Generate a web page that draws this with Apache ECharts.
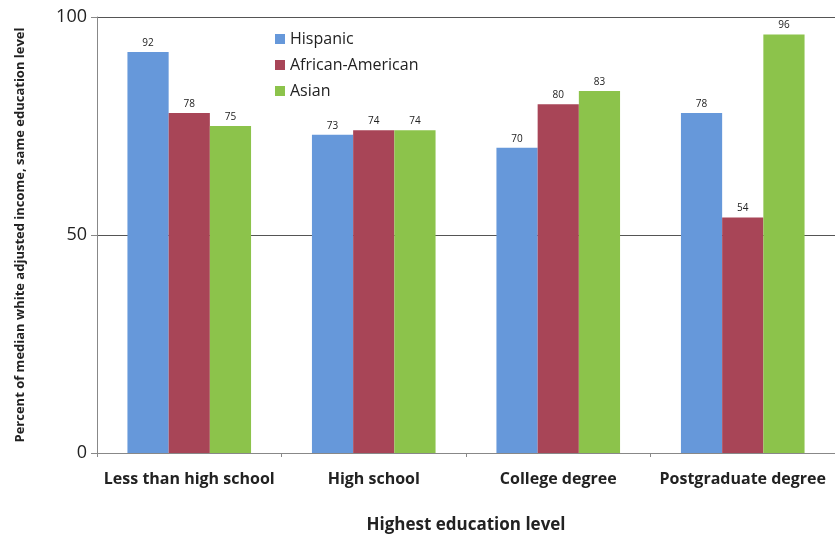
<!DOCTYPE html>
<html>
<head>
<meta charset="utf-8">
<script src="https://cdn.jsdelivr.net/npm/echarts@6/dist/echarts.min.js"></script>
<style>
html,body{margin:0;padding:0;background:#fff;}
#chart{width:835px;height:543px;}
</style>
</head>
<body>
<div id="chart"></div>
<script>
// data
var categories = ['Less than high school', 'High school', 'College degree', 'Postgraduate degree'];
var hispanic = [92, 73, 70, 78];
var africanAmerican = [78, 74, 80, 54];
var asian = [75, 74, 83, 96];
var yTicks = [0, 50, 100];

var font = '"Open Sans", Lato, sans-serif';
var myChart = echarts.init(document.getElementById('chart'));

function barSeries(name, data, color) {
    return {
        name: name,
        type: 'bar',
        data: data,
        barGap: '0%',
        barCategoryGap: '33%',
        itemStyle: { color: color },
        label: {
            show: true,
            position: 'top',
            distance: 4,
            color: '#222',
            fontSize: 10,
            fontFamily: font
        }
    };
}

myChart.setOption({
    animation: false,
    grid: { left: 97, right: -2, top: 17, bottom: 90 },
    legend: {
        orient: 'vertical',
        left: 270,
        top: 26,
        icon: 'rect',
        itemWidth: 10,
        itemHeight: 10,
        itemGap: 10,
        textStyle: { fontSize: 16, color: '#222', fontFamily: font },
        data: ['Hispanic', 'African-American', 'Asian']
    },
    xAxis: {
        type: 'category',
        data: categories,
        name: 'Highest education level',
        nameLocation: 'middle',
        nameGap: 64,
        nameTextStyle: { fontSize: 17, fontWeight: 'bold', color: '#222', fontFamily: font },
        axisLine: { lineStyle: { color: '#888' } },
        axisTick: { show: true, interval: 0, length: 4, lineStyle: { color: '#888' } },
        axisLabel: { interval: 0, fontSize: 16, fontWeight: 'bold', color: '#222', margin: 18, fontFamily: font }
    },
    yAxis: {
        type: 'value',
        min: yTicks[0],
        max: yTicks[yTicks.length - 1],
        interval: yTicks[1] - yTicks[0],
        name: 'Percent of median white adjusted income, same education level',
        nameLocation: 'middle',
        nameGap: 70,
        nameTextStyle: { fontSize: 13, fontWeight: 'bold', color: '#222', fontFamily: font },
        axisLine: { show: true, lineStyle: { color: '#888' } },
        axisTick: { show: true, length: 6, lineStyle: { color: '#888' } },
        axisLabel: { fontSize: 18, color: '#222', margin: 10, fontFamily: font },
        splitLine: { show: true, lineStyle: { color: '#555', width: 1 } }
    },
    series: [
        barSeries('Hispanic', hispanic, '#6698da'),
        barSeries('African-American', africanAmerican, '#a84557'),
        barSeries('Asian', asian, '#8cc34b')
    ]
});
</script>
</body>
</html>
